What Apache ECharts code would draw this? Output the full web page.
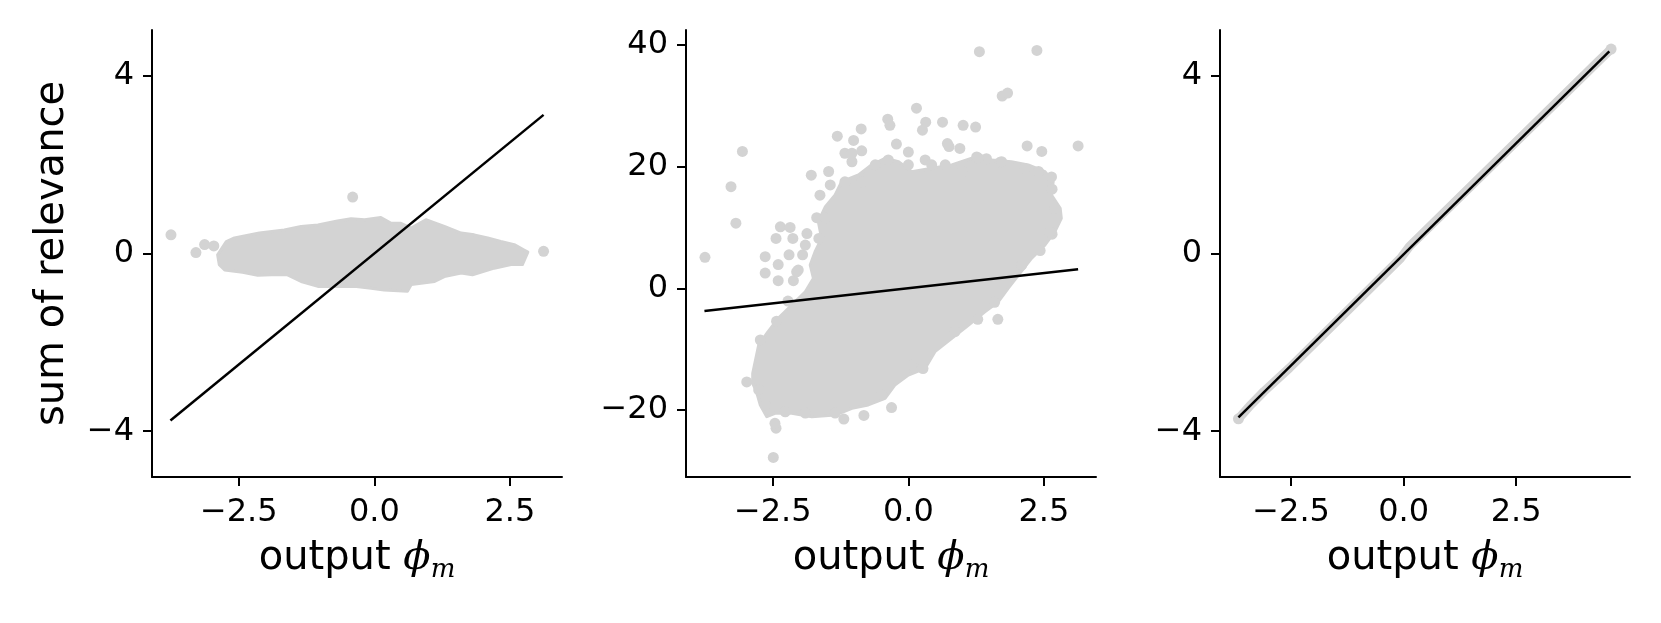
<!DOCTYPE html>
<html lang="en">
<head>
    <meta charset="UTF-8">
    <title>relevance vs output</title>
    <script src="https://cdn.jsdelivr.net/npm/echarts@6/dist/echarts.min.js"></script>
    <style>
        body { margin: 0; background: #fff; }
        #main { width: 1661px; height: 623px; }
    </style>
</head>
<body>
<div id="main"></div>

<script>
    // tick positions
    var xTicks = [-2.5, 0, 2.5];
    var yTicksSmall = [-4, 0, 4];
    var yTicksMid = [-20, 0, 20, 40];

    // panel 1: fit line, outline of the dense cloud, loose points
    var fitA = [[-3.76, -3.76], [3.12, 3.12]];
    var blobA = [
        [-2.89, -0.03], [-2.73, 0.27], [-2.58, 0.35], [-2.12, 0.46], [-1.66, 0.53], [-1.35, 0.61],
        [-1.04, 0.64], [-0.68, 0.73], [-0.43, 0.78], [-0.18, 0.76], [0.12, 0.81], [0.31, 0.68],
        [0.49, 0.68], [0.68, 0.57], [0.95, 0.76], [1.29, 0.61], [1.60, 0.46], [1.84, 0.42],
        [2.09, 0.35], [2.33, 0.27], [2.58, 0.20], [2.76, 0.08], [2.83, 0.03],
        [2.73, -0.25], [2.52, -0.25], [2.21, -0.33], [1.81, -0.48], [1.60, -0.44], [1.29, -0.52],
        [1.11, -0.63], [0.68, -0.70], [0.61, -0.85], [0.18, -0.82], [-0.06, -0.78], [-0.37, -0.74],
        [-0.55, -0.74], [-1.04, -0.74], [-1.35, -0.63], [-1.60, -0.48], [-1.90, -0.48], [-2.15, -0.49],
        [-2.43, -0.42], [-2.76, -0.37], [-2.86, -0.25]
    ];
    var dotsA = [[-3.75, 0.42], [-0.40, 1.27], [3.12, 0.05], [-3.29, 0.02], [-3.13, 0.20], [-2.96, 0.17]];

    // panel 2
    var fitB = [[-3.76, -3.73], [3.13, 3.12]];
    var blobB = [
        [-2.87, -13.97], [-2.76, -9.32], [-2.61, -7.40], [-2.40, -4.93], [-2.15, -2.75], [-1.90, -0.56],
        [-1.75, 1.64], [-1.81, 3.83], [-1.72, 6.02], [-1.60, 8.22], [-1.66, 10.95], [-1.53, 13.41],
        [-1.35, 15.34], [-1.23, 17.52], [-0.92, 18.63], [-0.68, 20.27], [-0.43, 21.37], [-0.18, 20.81],
        [0.06, 19.17], [0.43, 19.73], [0.80, 20.27], [1.17, 21.37], [1.53, 21.09], [1.90, 20.81],
        [2.21, 20.27], [2.52, 19.17], [2.67, 17.52], [2.64, 15.34], [2.80, 13.15], [2.82, 11.51],
        [2.70, 9.30], [2.52, 7.12], [2.27, 4.93], [2.03, 2.19], [1.84, 0.00], [1.66, -2.20],
        [1.41, -3.85], [1.11, -6.03], [0.80, -8.22], [0.49, -10.42], [0.31, -13.15], [0.00, -14.25],
        [-0.25, -15.90], [-0.43, -18.08], [-0.74, -19.18], [-1.04, -19.73], [-1.35, -20.83], [-1.78, -21.11],
        [-2.15, -20.55], [-2.46, -20.55], [-2.61, -21.11], [-2.73, -19.18], [-2.80, -17.00], [-2.87, -15.62]
    ];
    var dotsB = [
        [1.31, 38.9], [2.37, 39.1], [1.73, 31.6], [1.83, 32.1], [0.15, 29.6], [-0.38, 27.8], [-0.34, 26.8],
        [0.32, 27.3], [0.26, 26.0], [0.63, 27.3], [1.01, 26.8], [1.24, 26.5], [-0.87, 26.2], [-1.31, 25.0],
        [-1.01, 24.3], [-0.22, 23.7], [-0.86, 22.6], [-1.17, 22.2], [-1.04, 22.2], [0.0, 22.4], [0.75, 23.3],
        [0.95, 23.0], [2.19, 23.4], [2.46, 22.5], [3.13, 23.4], [-3.06, 22.5], [-3.27, 16.7], [-3.18, 10.7],
        [-3.75, 5.1], [-1.79, 18.6], [-2.64, 5.2], [-2.64, 2.5], [-2.40, 3.9], [-2.40, 1.25], [-2.12, 1.25],
        [-2.43, -5.4], [-2.22, -2.1], [-2.49, -27.8], [-2.44, -23.0], [-2.46, -22.2], [-2.98, -15.4],
        [-1.19, -21.5], [-0.82, -20.9], [-0.31, -19.6], [0.27, -13.2], [1.28, -5.1], [1.65, -5.1], [1.59, -2.3],
        [2.43, 6.2], [2.65, 8.9], [2.73, 11.8], [2.65, 16.3], [2.64, 18.3],
        [-2.36, 10.1], [-2.18, 10.0], [-2.44, 8.2], [-2.13, 8.2], [-2.20, 5.5], [-1.95, 5.5], [-1.87, 9.0],
        [-2.03, 3.0], [-1.47, 19.2], [-1.44, 17.0], [-1.63, 15.3], [-1.69, 11.6], [-1.04, 20.8],
        [0.31, 21.1], [0.43, 20.3], [0.72, 23.8], [1.26, 21.6], [1.44, 21.3], [1.69, 20.7],
        // dots along the edge of the dense part
        [-1.53, 11.5], [-1.65, 8.2], [-1.90, 7.1], [-2.06, 2.7], [-2.73, -8.5], [-2.76, -16.7], [-2.64, -19.2],
        [-2.27, -20.3], [-1.90, -20.5], [-1.35, -20.5], [-0.49, -17.5], [0.06, -12.6], [0.86, -7.1],
        [2.09, 3.8], [2.61, 9.3], [2.70, 13.1], [-1.17, 17.5], [-0.86, 17.5], [-0.61, 20.3], [-0.37, 21.1],
        [0.0, 20.3], [0.68, 20.3], [0.99, 19.2], [1.29, 21.4], [1.72, 20.8], [2.15, 19.7], [2.40, 19.2]
    ];

    // panel 3
    var fitC = [[-3.67, -3.69], [4.57, 4.55]];
    var bandC = [[-3.67, -3.72], [-3.39, -3.40], [-3.10, -3.10], [-2.54, -2.58], [-0.06, -0.10], [0.13, 0.16], [4.35, 4.35], [4.61, 4.60]];

    var grey = '#d3d3d3';
    var font = 'DejaVu Sans';

    function fmt(dec) {
        return function (v) {
            return (v < 0 ? '\u2212' : '') + Math.abs(v).toFixed(dec);
        };
    }

    var grids = [
        {left: 152, top: 30, width: 410, height: 447},
        {left: 686, top: 30, width: 410, height: 447},
        {left: 1220, top: 30, width: 410, height: 447}
    ];
    grids.forEach(function (g) { g.outerBoundsMode = 'none'; });

    function xAxis(i, min, max) {
        return {
            type: 'value', gridIndex: i, min: min, max: max,
            axisLine: {onZero: false, lineStyle: {color: '#000', width: 2}},
            axisTick: {customValues: xTicks, length: 9, lineStyle: {color: '#000', width: 2}},
            axisLabel: {customValues: xTicks, formatter: fmt(1), color: '#000', fontSize: 32, fontFamily: font, margin: 20},
            splitLine: {show: false},
            name: 'output {phi|\u03d5}{sub|m}',
            nameLocation: 'middle',
            nameGap: 58,
            nameTextStyle: {
                color: '#000', fontSize: 40, fontFamily: font, lineHeight: 48,
                rich: {
                    phi: {fontSize: 40, fontFamily: 'DejaVu Serif', fontStyle: 'italic', color: '#000', lineHeight: 48},
                    sub: {fontSize: 26, fontFamily: 'DejaVu Serif', fontStyle: 'italic', color: '#000', lineHeight: 20, verticalAlign: 'bottom'}
                }
            }
        };
    }

    function yAxis(i, min, max, ticks, name) {
        return {
            type: 'value', gridIndex: i, min: min, max: max,
            axisLine: {onZero: false, lineStyle: {color: '#000', width: 2}},
            axisTick: {customValues: ticks, length: 9, lineStyle: {color: '#000', width: 2}},
            axisLabel: {customValues: ticks, formatter: fmt(0), color: '#000', fontSize: 32, fontFamily: font, margin: 18},
            splitLine: {show: false},
            name: name || '',
            nameLocation: 'middle',
            nameGap: 79,
            nameTextStyle: {color: '#000', fontSize: 40, fontFamily: font}
        };
    }

    function blob(i, pts) {
        return {
            type: 'custom', xAxisIndex: i, yAxisIndex: i, data: pts, silent: true, z: 1,
            renderItem: function (params, api) {
                if (params.dataIndex !== 0) return null;
                return {
                    type: 'polygon',
                    shape: {points: pts.map(function (p) { return api.coord(p); })},
                    style: {fill: grey, stroke: grey, lineWidth: 3, lineJoin: 'round'}
                };
            }
        };
    }

    function dots(i, pts) {
        return {type: 'scatter', xAxisIndex: i, yAxisIndex: i, data: pts, symbolSize: 11,
            itemStyle: {color: grey, opacity: 1}, z: 2, silent: true};
    }

    function fit(i, pts) {
        return {type: 'line', xAxisIndex: i, yAxisIndex: i, data: pts, symbol: 'none', z: 5,
            lineStyle: {color: '#000', width: 2.5}, silent: true};
    }

    var myChart = echarts.init(document.getElementById('main'));
    var option = {
        animation: false,
        backgroundColor: '#fff',
        grid: grids,
        xAxis: [xAxis(0, -4.10, 3.46), xAxis(1, -4.10, 3.46), xAxis(2, -4.08, 5.03)],
        yAxis: [
            yAxis(0, -5.03, 5.03, yTicksSmall, 'sum of relevance'),
            yAxis(1, -31.02, 42.46, yTicksMid),
            yAxis(2, -5.03, 5.03, yTicksSmall)
        ],
        series: [
            blob(0, blobA), dots(0, dotsA), fit(0, fitA),
            blob(1, blobB), dots(1, dotsB), fit(1, fitB),
            {type: 'line', xAxisIndex: 2, yAxisIndex: 2, data: bandC, symbol: 'none', z: 1, silent: true,
                lineStyle: {color: grey, width: 9, cap: 'round'}},
            dots(2, [bandC[0], bandC[bandC.length - 1]]), fit(2, fitC)
        ]
    };
    myChart.setOption(option);
</script>

</body>
</html>
